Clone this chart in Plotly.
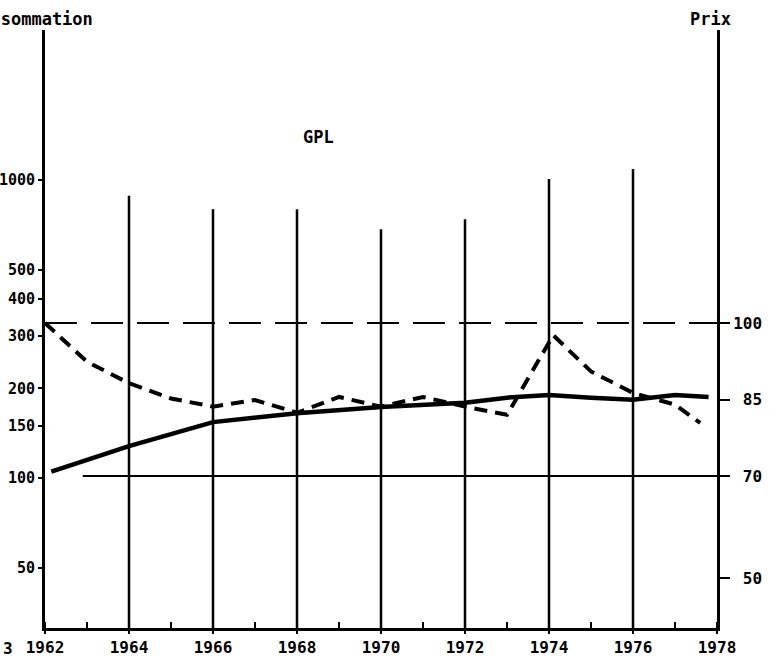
import plotly.graph_objects as go

# ---- data ----
cons_years = [1962.15, 1964, 1966, 1968, 1970, 1972, 1973, 1974, 1975, 1976, 1977, 1977.8]
cons_values = [105, 128, 154, 165, 173, 179, 186, 190, 186, 183, 190, 187]

price_years = [1962, 1963, 1964, 1965, 1966, 1967, 1968, 1969, 1970, 1971, 1972, 1973,
               1974.1, 1975, 1976, 1977, 1977.6]
price_values = [100, 92.4, 88.2, 85.2, 83.6, 84.9, 82.4, 85.5, 83.6, 85.5, 83.6, 82.0,
                97.6, 90.5, 86.3, 84.0, 80.4]

bar_years = [1964, 1966, 1968, 1970, 1972, 1974, 1976]
bar_tops = [885, 797, 797, 683, 738, 1007, 1089]
bar_base = 30

ref_price = 100          # long-dashed reference line (right axis)
ref_price_years = [1962, 1978]
low_price = 70           # thin reference line (right axis)
low_price_years = [1962.9, 1978]

left_ticks = [50, 100, 150, 200, 300, 400, 500, 1000]
left_labels = ["50", "100", "150", "200", "300", "400", "500", "1000"]
right_ticks = [50, 70, 85, 100]
right_labels = ["\u00a050", "\u00a070", "\u00a085", "100"]
x_ticks = list(range(1962, 1979, 2))

FONT = "DejaVu Sans Mono"
font = dict(family=FONT, size=17, color="black", weight="bold")
yfont = dict(family=FONT, size=15, color="black", weight="bold")
rfont = dict(family=FONT, size=16, color="black", weight="bold")
xfont = dict(family=FONT, size=16, color="black", weight="bold")

fig = go.Figure()

# vertical lines at even years
vx, vy = [], []
for yr, top in zip(bar_years, bar_tops):
    vx += [yr, yr, None]
    vy += [bar_base, top, None]
fig.add_trace(go.Scatter(x=vx, y=vy, mode="lines",
                         line=dict(color="black", width=2.5), showlegend=False, hoverinfo="skip"))

# reference lines on price axis
fig.add_trace(go.Scatter(x=ref_price_years, y=[ref_price] * 2, yaxis="y2", mode="lines",
                         line=dict(color="black", width=2, dash="32px,14px"), showlegend=False))
fig.add_trace(go.Scatter(x=low_price_years, y=[low_price] * 2, yaxis="y2", mode="lines",
                         line=dict(color="black", width=2), showlegend=False))

# consumption (left, log)
fig.add_trace(go.Scatter(x=cons_years, y=cons_values, mode="lines",
                         line=dict(color="black", width=4.5), showlegend=False))
# price (right)
fig.add_trace(go.Scatter(x=price_years, y=price_values, yaxis="y2", mode="lines",
                         line=dict(color="black", width=4, dash="13px,8px"), showlegend=False))

fig.update_layout(
    width=771, height=659,
    margin=dict(l=45, r=54, t=30, b=31, autoexpand=False),
    paper_bgcolor="white", plot_bgcolor="white",
    font=font,
    xaxis=dict(range=[1962, 1978], tickvals=x_ticks, ticktext=[str(v) for v in x_ticks],
               automargin=False,
               showgrid=False, zeroline=False, showline=True, linecolor="black", linewidth=3,
               ticks="outside", ticklen=3, tickwidth=2, tickcolor="black",
               ticklabelstandoff=0,
               minor=dict(ticks="inside", dtick=1, tick0=1963, ticklen=6, tickwidth=2,
                          tickcolor="black", showgrid=False),
               tickfont=xfont),
    yaxis=dict(type="log", range=[1.4966, 3.5034], tickvals=left_ticks, ticktext=left_labels,
               automargin=False,
               showgrid=False, zeroline=False, showline=True, linecolor="black", linewidth=3,
               ticks="outside", ticklen=4, tickwidth=2, tickcolor="black",
               tickfont=yfont),
    yaxis2=dict(overlaying="y", side="right", range=[40.196, 157.45],
                tickvals=right_ticks, ticktext=right_labels, automargin=False,
                showgrid=False, zeroline=False, showline=True, linecolor="black", linewidth=3,
                ticks="outside", ticklen=10, tickwidth=2, tickcolor="black",
                tickfont=rfont),
    annotations=[
        dict(text="Consommation", xref="paper", yref="paper", x=0.0744, y=1.018,
             xanchor="right", yanchor="middle", showarrow=False, font=font),
        dict(text="Prix", xref="paper", yref="paper", x=0.990, y=1.018,
             xanchor="center", yanchor="middle", showarrow=False, font=font),
        dict(text="GPL", xref="paper", yref="paper", x=0.4077, y=0.821,
             xanchor="center", yanchor="middle", showarrow=False, font=font),
        dict(text="3", xref="paper", yref="paper", x=-0.066, y=-0.035,
             xanchor="left", yanchor="middle", showarrow=False, font=xfont),
    ],
)

fig.write_html("out.html", config={"displayModeBar": False},
               post_script="document.body.style.margin='0px';document.body.style.overflow='hidden';")
